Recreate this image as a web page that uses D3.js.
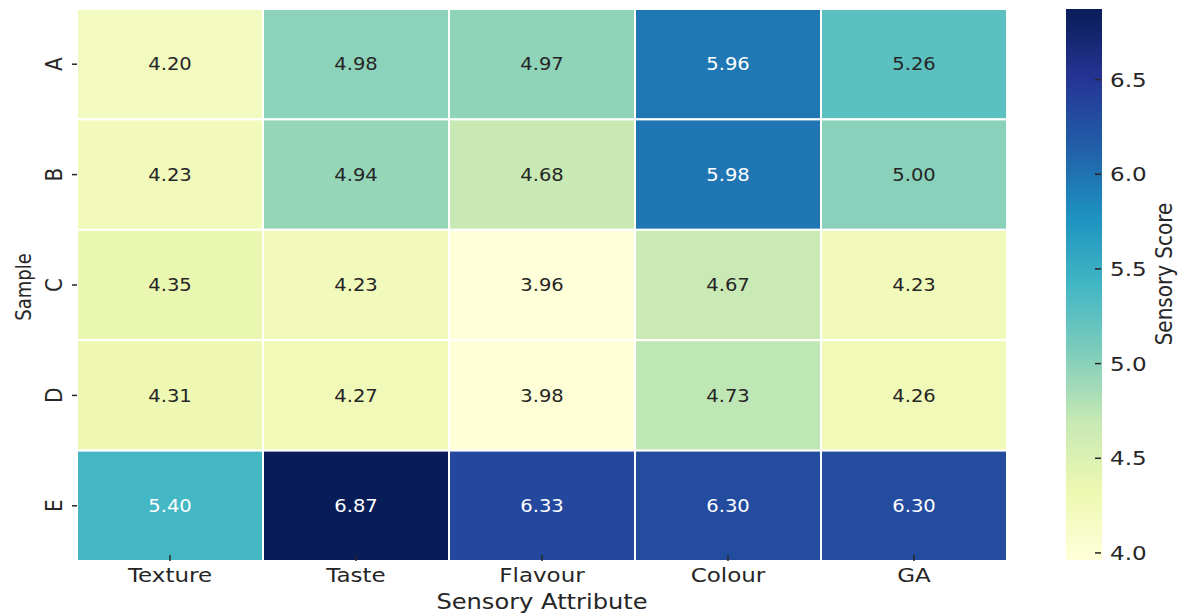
<!DOCTYPE html>
<html>
<head>
<meta charset="utf-8">
<script src="https://cdn.jsdelivr.net/npm/d3@7"></script>
<style>
  html, body { margin: 0; padding: 0; background: #ffffff; }
  svg { display: block; }
  text { font-family: "DejaVu Sans", sans-serif; }
</style>
</head>
<body>
<svg id="chart" width="1188" height="615"></svg>
<script>
// Sensory scores per sample, one value per attribute
const attributes = ["Texture", "Taste", "Flavour", "Colour", "GA"];
const samples = ["A", "B", "C", "D", "E"];
const sampleA = [4.20, 4.98, 4.97, 5.96, 5.26];
const sampleB = [4.23, 4.94, 4.68, 5.98, 5.00];
const sampleC = [4.35, 4.23, 3.96, 4.67, 4.23];
const sampleD = [4.31, 4.27, 3.98, 4.73, 4.26];
const sampleE = [5.40, 6.87, 6.33, 6.30, 6.30];
const scoreTicks = [4.0, 4.5, 5.0, 5.5, 6.0, 6.5];

const rows = [sampleA, sampleB, sampleC, sampleD, sampleE];
const cells = [];
rows.forEach((vals, r) => vals.forEach((v, c) => cells.push({ sample: samples[r], attr: attributes[c], value: v })));

// YlGnBu (ColorBrewer 9-class), linearly interpolated
const ylgnbu = ["#ffffd9", "#edf8b1", "#c7e9b4", "#7fcdbb", "#41b6c4", "#1d91c0", "#225ea8", "#253494", "#081d58"];
const vmin = d3.min(cells, d => d.value);
const vmax = d3.max(cells, d => d.value);
const t = d3.scaleLinear().domain([vmin, vmax]).range([0, 1]);
const ramp = d3.scaleLinear().domain(ylgnbu.map((_, i) => i / (ylgnbu.length - 1))).range(ylgnbu).interpolate(d3.interpolateRgb);
const color = v => ramp(t(v));

// Relative luminance to pick the annotation colour
function luminance(c) {
  const rgb = d3.rgb(c);
  const lin = x => { x /= 255; return x <= 0.03928 ? x / 12.92 : Math.pow((x + 0.055) / 1.055, 2.4); };
  return 0.2126 * lin(rgb.r) + 0.7152 * lin(rgb.g) + 0.0722 * lin(rgb.b);
}

const SX = 1.15;          // horizontal stretch of glyphs
const ink = "#262626";
const svg = d3.select("#chart");

const plot = { left: 77, right: 1007, top: 9, bottom: 561 };
const x = d3.scaleBand().domain(attributes).range([plot.left, plot.right]);
const y = d3.scaleBand().domain(samples).range([plot.top, plot.bottom]);

// Cells
svg.append("g").selectAll("rect").data(cells).join("rect")
  .attr("x", d => x(d.attr))
  .attr("y", d => y(d.sample))
  .attr("width", x.bandwidth())
  .attr("height", y.bandwidth())
  .attr("fill", d => color(d.value))
  .attr("stroke", "#ffffff")
  .attr("stroke-width", 2);

// Annotations
svg.append("g").selectAll("g").data(cells).join("g")
  .attr("transform", d => `translate(${x(d.attr) + x.bandwidth() / 2},${y(d.sample) + y.bandwidth() / 2}) scale(${SX},1)`)
  .append("text")
  .attr("text-anchor", "middle")
  .attr("dy", "0.36em")
  .attr("font-size", 17)
  .attr("fill", d => luminance(color(d.value)) > 0.408 ? ink : "#ffffff")
  .text(d => d.value.toFixed(2));

// X axis
const xAxis = svg.append("g")
  .attr("transform", `translate(0,${plot.bottom})`)
  .call(d3.axisBottom(x).tickSize(6).tickSizeOuter(0));
xAxis.select(".domain").remove();
xAxis.selectAll(".tick line").attr("y1", -6).attr("y2", 0).attr("stroke", ink).attr("stroke-width", 1.5);
xAxis.selectAll(".tick text")
  .attr("y", null).attr("dy", null)
  .attr("transform", `translate(0,21) scale(${SX},1)`)
  .attr("font-size", 20)
  .attr("fill", ink);

// Y axis (labels rotated)
const yAxis = svg.append("g")
  .attr("transform", `translate(${plot.left},0)`)
  .call(d3.axisLeft(y).tickSize(5).tickSizeOuter(0));
yAxis.select(".domain").remove();
yAxis.selectAll(".tick line").attr("stroke", ink).attr("stroke-width", 1.5);
yAxis.selectAll(".tick text")
  .attr("x", null).attr("dy", null)
  .attr("text-anchor", "middle")
  .attr("transform", `translate(-15,0) scale(${SX},1) rotate(-90)`)
  .attr("font-size", 20)
  .attr("fill", ink);

// Axis titles
svg.append("g").attr("transform", `translate(${(plot.left + plot.right) / 2},609) scale(${SX},1)`)
  .append("text").attr("text-anchor", "middle").attr("font-size", 21).attr("fill", ink)
  .text("Sensory Attribute");
svg.append("g").attr("transform", `translate(31,287) scale(${SX},1) rotate(-90)`)
  .append("text").attr("text-anchor", "middle").attr("font-size", 18).attr("fill", ink)
  .text("Sample");

// Colour bar
const cb = { x: 1066, width: 36, top: 9, bottom: 560 };
const cy = d3.scaleLinear().domain([vmin, vmax]).range([cb.bottom, cb.top]);
const defs = svg.append("defs");
const grad = defs.append("linearGradient").attr("id", "cbar")
  .attr("x1", 0).attr("y1", 1).attr("x2", 0).attr("y2", 0);
grad.selectAll("stop").data(ylgnbu).join("stop")
  .attr("offset", (d, i) => i / (ylgnbu.length - 1))
  .attr("stop-color", d => d);
svg.append("rect")
  .attr("x", cb.x).attr("y", cb.top)
  .attr("width", cb.width).attr("height", cb.bottom - cb.top)
  .attr("fill", "url(#cbar)");

const cAxis = svg.append("g")
  .attr("transform", `translate(${cb.x + cb.width},0)`)
  .call(d3.axisRight(cy).tickValues(scoreTicks).tickFormat(d3.format(".1f")).tickSize(6));
cAxis.select(".domain").remove();
cAxis.selectAll(".tick line").attr("x1", -7).attr("x2", -1).attr("stroke", ink).attr("stroke-width", 1.5);
cAxis.selectAll(".tick text")
  .attr("x", null).attr("dy", null)
  .attr("text-anchor", "start")
  .attr("transform", `translate(8,0) scale(${SX},1)`)
  .attr("dominant-baseline", "central")
  .attr("font-size", 20)
  .attr("fill", ink);

svg.append("g").attr("transform", `translate(1172,274) scale(${SX},1) rotate(-90)`)
  .append("text").attr("text-anchor", "middle").attr("font-size", 20).attr("fill", ink)
  .text("Sensory Score");
</script>
</body>
</html>
